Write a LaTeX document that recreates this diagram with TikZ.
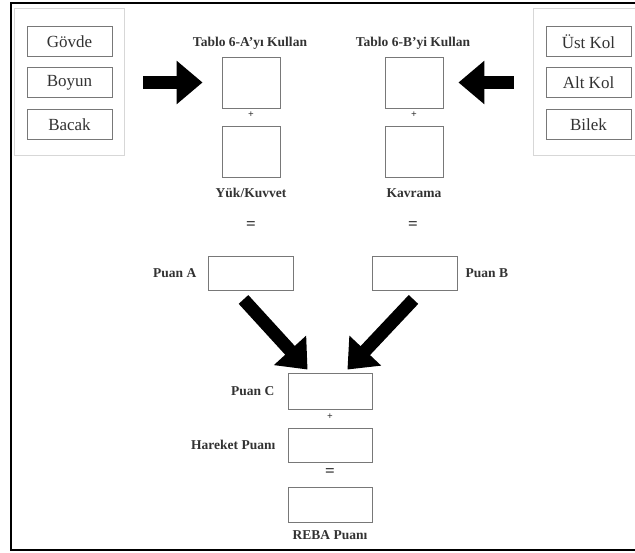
\documentclass[tikz,border=0pt]{standalone}
\usepackage{fontspec}
\setmainfont{Liberation Serif}
\usepackage{tikz}
\usetikzlibrary{positioning}
\usetikzlibrary{arrows.meta}
\definecolor{boxgray}{RGB}{120,120,120}
\definecolor{panelgray}{RGB}{215,215,215}
\definecolor{txtgray}{RGB}{50,50,50}

\begin{document}
\begin{tikzpicture}[x=1pt,y=-1pt,
  scorebox/.style={draw=boxgray, line width=0.9pt, minimum width=#1, inner sep=0pt},
  partbox/.style={draw=boxgray, line width=1pt, minimum width=85pt, minimum height=30pt, inner sep=0pt,
     font=\fontsize{17}{19}\selectfont, text=txtgray},
  lbl/.style={font=\fontsize{13.5}{15}\selectfont\bfseries, text=txtgray, inner sep=0pt},
  sign/.style={font=\fontsize{10}{12}\selectfont\bfseries, text=txtgray, inner sep=0pt},
  eqsign/.style={font=\fontsize{17}{18}\selectfont\bfseries, text=txtgray, inner sep=0pt},
  panel/.style={draw=panelgray, line width=0.8pt},
  bigarrow/.style={line width=13pt, -{Triangle[width=42pt,length=26pt]}}]
\useasboundingbox (0,0) rectangle (635,553);
% outer frame (right side runs off the page)
\draw [line width=2pt] (635,3.5) -- (10.5,3.5) -- (10.5,550) -- (635,550);

% side panels
\draw [panel] (14,8) rectangle (124,155);
\node (lpanel) at (69,82) [minimum width=110pt, minimum height=147pt, inner sep=0pt] {};
\draw [panel] (635,8) -- (533,8) -- (533,155) -- (635,155);
\node (rpanel) at (584,82) [minimum width=102pt, minimum height=147pt, inner sep=0pt] {};

\node (govde) at (69.5,42) [partbox] {Gövde};
\node (boyun) at (69.5,83) [partbox] {Boyun};
\node (bacak) at (69.5,125) [partbox] {Bacak};
\node (ustkol) at (588.5,42) [partbox] {Üst Kol};
\node (altkol) at (588.5,83) [partbox] {Alt Kol};
\node (bilek) at (588.5,125) [partbox] {Bilek};

% table boxes
\node (a1) at (251,82.5) [scorebox=58pt, minimum height=51pt] {};
\node (a2) at (251,151.5) [scorebox=58pt, minimum height=51pt] {};
\node (b1) at (414,82.5) [scorebox=58pt, minimum height=51pt] {};
\node (b2) at (414,151.5) [scorebox=58pt, minimum height=51pt] {};
\node (ta) at (250,43) [lbl] {Tablo 6-A'yı Kullan};
\node (tb) at (413,43) [lbl] {Tablo 6-B'yi Kullan};
\node (plusa) at (251,115) [sign] {+};
\node (plusb) at (414,115) [sign] {+};
\node (yuk) at (251,193) [lbl] {Yük/Kuvvet};
\node (kav) at (414,193) [lbl] {Kavrama};
\node (eqa) at (251,226) [eqsign] {=};
\node (eqb) at (413,226) [eqsign] {=};

% scores
\node (pa) at (250.5,273) [scorebox=85pt, minimum height=34pt] {};
\node (pb) at (414.5,273) [scorebox=85pt, minimum height=34pt] {};
\node (pal) [lbl, left=11pt of pa] {Puan A};
\node (pbl) [lbl, right=8pt of pb] {Puan B};

\node (pc) at (330,391) [scorebox=84pt, minimum height=36pt] {};
\node (ph) at (330,445) [scorebox=84pt, minimum height=34pt] {};
\node (pr) at (330,504.5) [scorebox=84pt, minimum height=35pt] {};
\node (pcl) [lbl, left=13pt of pc] {Puan C};
\node (phl) [lbl, left=12pt of ph] {Hareket Puanı};
\node (prl) [lbl, below=8pt of pr] {REBA Puanı};
\node (plusc) at (330,417) [sign] {+};
\node (eqc) at (330,473) [eqsign] {=};

% arrows
\draw [bigarrow, shorten <=19pt, shorten >=19pt] (lpanel.east |- a1) -- (a1.west);
\draw [bigarrow, shorten <=19pt, shorten >=15pt] (rpanel.west |- b1) -- (b1.east);
\coordinate (tipa) at ([xshift=20pt,yshift=3pt]pc.north west);
\coordinate (tipb) at ([xshift=-25pt,yshift=3pt]pc.north east);
\draw [bigarrow] ([xshift=-7pt,yshift=-9pt]pa.south) -- (tipa);
\draw [bigarrow] ([xshift=-1pt,yshift=-9pt]pb.south) -- (tipb);
\end{tikzpicture}
\end{document}
